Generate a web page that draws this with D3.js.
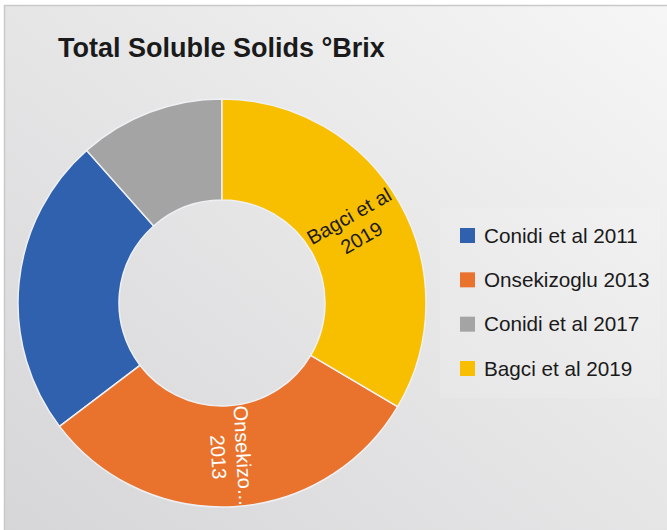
<!DOCTYPE html>
<html>
<head>
<meta charset="utf-8">
<script src="https://cdn.jsdelivr.net/npm/d3@7"></script>
<style>
  html, body { margin: 0; padding: 0; background: #ffffff; }
  svg { display: block; font-family: "Liberation Sans", Arial, Helvetica, sans-serif; }
</style>
</head>
<body>
<svg id="chart" width="667" height="530"></svg>
<script>
// Total soluble solids (°Brix) reported by each study
const categories = ["Conidi et al 2011", "Onsekizoglu 2013", "Conidi et al 2017", "Bagci et al 2019"];
const values = [10.3, 13.5, 5.0, 14.5];
const colors = ["#3061ae", "#e9732d", "#a4a4a4", "#f8bf00"];
// clockwise drawing order of the ring, starting at 12 o'clock
const ringOrder = ["Bagci et al 2019", "Onsekizoglu 2013", "Conidi et al 2011", "Conidi et al 2017"];
// in-slice data labels (lines), where shown
const sliceLabels = {
  "Onsekizoglu 2013": { lines: ["Onsekizo...", "2013"], color: "#ffffff" },
  "Bagci et al 2019": { lines: ["Bagci et al", "2019"], color: "#1a1a1a" }
};
const title = "Total Soluble Solids °Brix";

const data = categories.map((c, i) => ({ name: c, value: values[i], color: colors[i] }));

const svg = d3.select("#chart");
const W = 667, H = 530;

// background panel with soft gradient
const defs = svg.append("defs");
const grad = defs.append("linearGradient")
  .attr("id", "bg").attr("x1", "1").attr("y1", "0").attr("x2", "0").attr("y2", "1");
grad.append("stop").attr("offset", "0").attr("stop-color", "#f6f6f6");
grad.append("stop").attr("offset", "0.45").attr("stop-color", "#e7e7e8");
grad.append("stop").attr("offset", "1").attr("stop-color", "#d6d6d8");

svg.append("rect").attr("x", 4).attr("y", 5).attr("width", W - 4).attr("height", H - 5)
  .attr("fill", "url(#bg)");
svg.append("path").attr("d", `M4.5,${H} V5.5 H${W}`)
  .attr("fill", "none").attr("stroke", "#c9c9c9").attr("stroke-width", 1.5);

// title
svg.append("text")
  .attr("x", 58).attr("y", 57)
  .attr("font-size", 27).attr("font-weight", "bold").attr("fill", "#1a1a1a")
  .text(title);

// doughnut
const cx = 222, cy = 303, outerR = 204, innerR = 103;
const pie = d3.pie()
  .value(d => d.value)
  .sort((a, b) => ringOrder.indexOf(a.name) - ringOrder.indexOf(b.name));
const arc = d3.arc().innerRadius(innerR).outerRadius(outerR);
const arcs = pie(data);

const g = svg.append("g").attr("transform", `translate(${cx},${cy})`);
g.selectAll("path.slice")
  .data(arcs)
  .join("path")
  .attr("class", "slice")
  .attr("d", arc)
  .attr("fill", d => d.data.color)
  .attr("stroke", "#eef0f4")
  .attr("stroke-width", 1.5);

// radial labels inside slices
const labelR = (innerR + outerR) / 2;
const lineGap = 25;
arcs.filter(d => sliceLabels[d.data.name]).forEach(d => {
  const lab = sliceLabels[d.data.name];
  const mid = (d.startAngle + d.endAngle) / 2;
  const x = Math.sin(mid) * labelR, y = -Math.cos(mid) * labelR;
  const rot = mid * 180 / Math.PI - 90;
  const t = g.append("text")
    .attr("transform", `translate(${x},${y}) rotate(${rot})`)
    .attr("text-anchor", "middle")
    .attr("font-size", 20)
    .attr("fill", lab.color);
  const n = lab.lines.length;
  lab.lines.forEach((ln, i) => {
    t.append("tspan")
      .attr("x", 0)
      .attr("y", (i - (n - 1) / 2) * lineGap)
      .attr("dy", "0.35em")
      .text(ln);
  });
});

// legend
svg.append("rect").attr("x", 440).attr("y", 208).attr("width", 220).attr("height", 190)
  .attr("fill", "#ffffff").attr("fill-opacity", 0.12);
const ly = d3.scalePoint().domain(categories).range([235.5, 368.5]);
const lg = svg.append("g");
const items = lg.selectAll("g").data(data).join("g")
  .attr("transform", d => `translate(460,${ly(d.name)})`);
items.append("rect").attr("x", 0).attr("y", -7.5).attr("width", 15).attr("height", 15)
  .attr("fill", d => d.color);
items.append("text").attr("x", 24).attr("dy", "0.35em")
  .attr("font-size", 20.7).attr("fill", "#1a1a1a")
  .text(d => d.name);
</script>
</body>
</html>
